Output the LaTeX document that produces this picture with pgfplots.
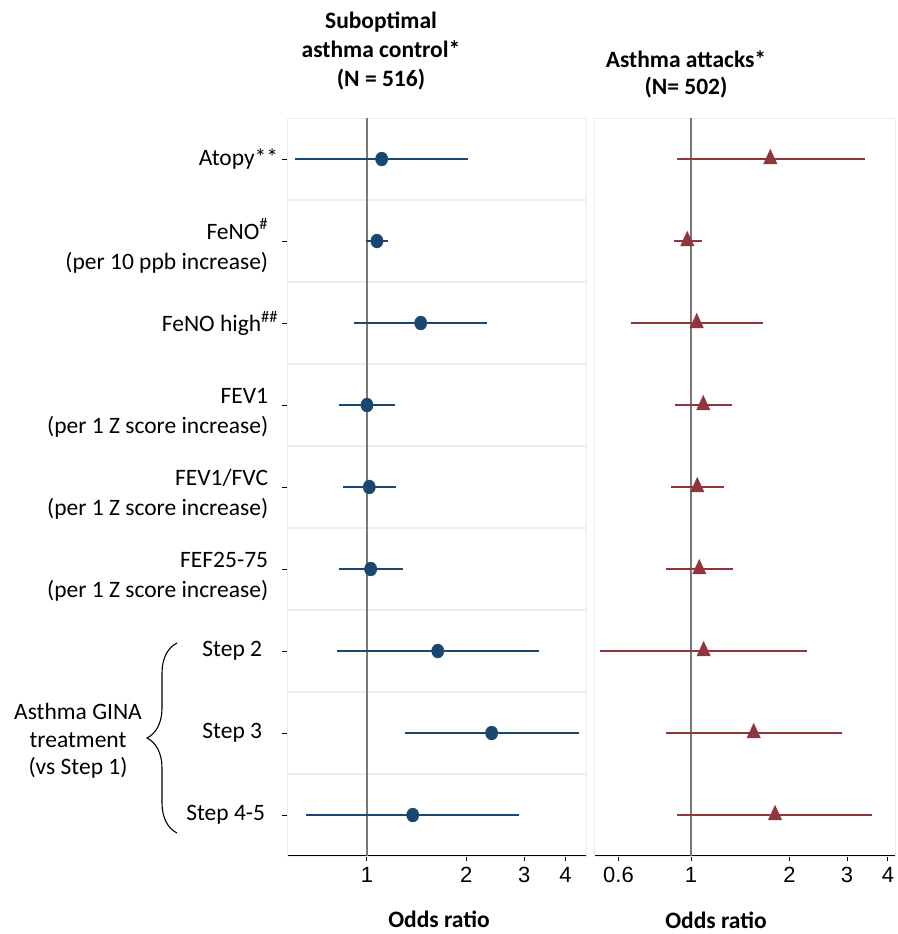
\documentclass[border=0pt]{standalone}
\usepackage{fontspec}
\setmainfont{Carlito}
\newfontfamily\tickfont{Liberation Sans}
\usepackage{pgfplots}
\pgfplotsset{compat=1.18}
\usetikzlibrary{decorations.pathreplacing}

\definecolor{navy}{RGB}{26,71,111}
\definecolor{maroon}{RGB}{144,53,59}
\definecolor{gridc}{RGB}{232,238,241}
\definecolor{refc}{RGB}{120,120,120}

\newcommand\lab{\fontsize{23.5}{30}\selectfont}
\newcommand\twoline[2]{\raisebox{-7pt}[\height][\depth]{\begin{tabular}{@{}r@{}}#1\\#2\end{tabular}}}

\begin{document}
\begin{tikzpicture}
\useasboundingbox (0,0) rectangle (897pt,-934pt);

% ---------- left panel: suboptimal asthma control ----------
\begin{axis}[
  xmode=log, scale only axis, height=738pt,
  ymin=0.5, ymax=9.5, y dir=reverse,
  axis x line*=bottom, axis y line*=left,
  axis line style={-},
  x axis line style={black, line width=1.2pt},
  xminorticks=false,
  minor ytick={1.5,2.5,...,8.5}, yminorgrids,
  minor grid style={gridc, line width=1.4pt},
  tick align=outside, major tick length=5pt, minor tick length=0pt,
  tick style={black, line width=1pt},
  xticklabel style={font=\tickfont\fontsize{22}{22}\selectfont, inner sep=0pt, yshift=-6pt},
  clip=false,
  at={(287.3pt,-856pt)}, anchor=south west, width=299.4pt,
  xmin=0.573, xmax=4.643,
  xtick={1,2,3,4}, xticklabels={1,2,3,4},
  ytick={1,...,9},
  y axis line style={black!80, line width=1.2pt},
  yticklabel style={font=\lab, anchor=east, inner sep=0pt, xshift=-4pt},
  yticklabels={
    Atopy**,
    \twoline{FeNO\textsuperscript{\#}}{(per 10 ppb increase)}\hspace*{10pt},
    FeNO high\textsuperscript{\#\#},
    \twoline{FEV1}{(per 1 Z score increase)}\hspace*{10pt},
    \twoline{FEV1/FVC}{(per 1 Z score increase)}\hspace*{10pt},
    \twoline{FEF25-75}{(per 1 Z score increase)}\hspace*{10pt},
    Step 2\hspace*{16pt},
    Step 3\hspace*{16pt},
    Step 4-5\hspace*{13pt}
  },
  unbounded coords=jump,
]
\draw[gridc, line width=1pt] (rel axis cs:0,0) rectangle (rel axis cs:1,1);
\addplot[refc, line width=1.5pt] coordinates {(1,0.5) (1,9.5)};
% confidence intervals (lower, upper)
\addplot[navy, line width=1.8pt] table[row sep=\\] {
x y\\
0.604 1\\ 2.032 1\\ nan nan\\
0.993 2\\ 1.161 2\\ nan nan\\
0.913 3\\ 2.316 3\\ nan nan\\
0.824 4\\ 1.214 4\\ nan nan\\
0.847 5\\ 1.222 5\\ nan nan\\
0.822 6\\ 1.284 6\\ nan nan\\
0.812 7\\ 3.320 7\\ nan nan\\
1.302 8\\ 4.410 8\\ nan nan\\
0.653 9\\ 2.891 9\\
};
% odds ratios
\addplot[navy, only marks, mark=*, mark size=7pt, mark options={xscale=0.88, fill=navy, draw=navy}]
  table[row sep=\\] {
x y\\
1.108 1\\ 1.072 2\\ 1.456 3\\ 1.000 4\\ 1.016 5\\ 1.026 6\\ 1.640 7\\ 2.390 8\\ 1.377 9\\
};
\end{axis}

% ---------- right panel: asthma attacks ----------
\begin{axis}[
  xmode=log, scale only axis, height=738pt,
  ymin=0.5, ymax=9.5, y dir=reverse,
  axis x line*=bottom, axis y line*=left,
  axis line style={-},
  x axis line style={black, line width=1.2pt},
  xminorticks=false,
  minor ytick={1.5,2.5,...,8.5}, yminorgrids,
  minor grid style={gridc, line width=1.4pt},
  tick align=outside, major tick length=5pt, minor tick length=0pt,
  tick style={black, line width=1pt},
  xticklabel style={font=\tickfont\fontsize{22}{22}\selectfont, inner sep=0pt, yshift=-6pt},
  clip=false,
  at={(594pt,-856pt)}, anchor=south west, width=301pt,
  xmin=0.505, xmax=4.206,
  xtick={0.6,1,2,3,4}, xticklabels={0.6,1,2,3,4},
  ytick=\empty,
  y axis line style={gridc, line width=1pt},
  unbounded coords=jump,
]
\draw[gridc, line width=1pt] (rel axis cs:0,0) rectangle (rel axis cs:1,1);
\addplot[refc, line width=1.5pt] coordinates {(1,0.5) (1,9.5)};
\addplot[maroon, line width=1.8pt] table[row sep=\\] {
x y\\
0.904 1\\ 3.398 1\\ nan nan\\
0.889 2\\ 1.078 2\\ nan nan\\
0.654 3\\ 1.664 3\\ nan nan\\
0.895 4\\ 1.335 4\\ nan nan\\
0.871 5\\ 1.262 5\\ nan nan\\
0.837 6\\ 1.344 6\\ nan nan\\
0.528 7\\ 2.270 7\\ nan nan\\
0.840 8\\ 2.900 8\\ nan nan\\
0.908 9\\ 3.577 9\\
};
\addplot[maroon, only marks, mark=triangle*, mark size=9.6pt, mark options={xscale=0.8, fill=maroon, draw=maroon}]
  table[row sep=\\] {
x y\\
1.748 1\\ 0.974 2\\ 1.041 3\\ 1.090 4\\ 1.045 5\\ 1.060 6\\ 1.093 7\\ 1.555 8\\ 1.807 9\\
};
\end{axis}

% titles
\begin{scope}[every node/.style={font=\bfseries\fontsize{23.5}{28}\selectfont, anchor=base, inner sep=0pt}]
\node at (381pt,-29pt) {Suboptimal};
\node at (381pt,-58pt) {asthma control*};
\node at (381pt,-86pt) {(N = 516)};
\node at (686pt,-67pt) {Asthma attacks*};
\node at (686pt,-95pt) {(N= 502)};
\node at (439pt,-927pt) {Odds ratio};
\node at (716pt,-928pt) {Odds ratio};
\end{scope}

% bracket for GINA steps
\draw[decorate, decoration={brace, amplitude=30pt}, line width=1.1pt] (177pt,-833pt) -- (177pt,-643pt);
\node[align=center, font=\fontsize{23.5}{27.5}\selectfont, inner sep=0pt] at (78pt,-741pt) {Asthma GINA\\treatment\\(vs Step 1)};
\end{tikzpicture}
\end{document}
